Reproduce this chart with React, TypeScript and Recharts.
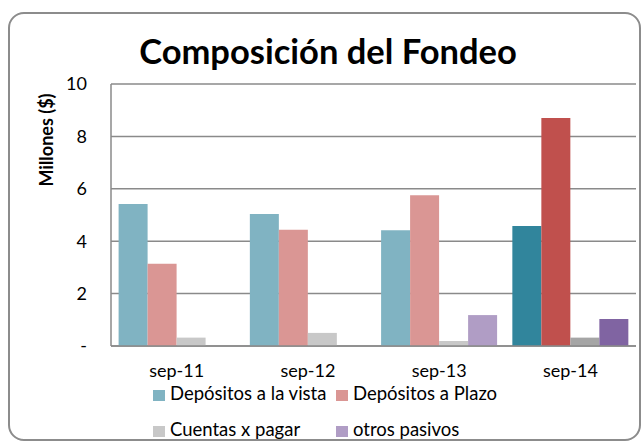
import { BarChart, Bar, XAxis, YAxis, CartesianGrid, Cell } from "recharts"

const categories = ["sep-11", "sep-12", "sep-13", "sep-14"]
const vista = [5.42, 5.04, 4.42, 4.58]
const plazo = [3.14, 4.44, 5.75, 8.7]
const cuentas = [0.32, 0.5, 0.19, 0.32]
const otros = [0, 0, 1.18, 1.03]
const yTicks = [0, 2, 4, 6, 8, 10]

const seriesNames = ["Depósitos a la vista", "Depósitos a Plazo", "Cuentas x pagar", "otros pasivos"]
const lightColors = ["#80b3c2", "#da9694", "#c8c8c8", "#b09dc5"]
const darkColors = ["#31859c", "#c0504d", "#a5a5a5", "#8064a2"]

const FONT = "Lato, 'Open Sans', sans-serif"

const data = categories.map((c, i) => ({
  name: c,
  vista: vista[i],
  plazo: plazo[i],
  cuentas: cuentas[i],
  otros: otros[i],
}))

const keys = ["vista", "plazo", "cuentas", "otros"]

const App = () => {
  return (
    <div style={{ position: "absolute", left: 0, top: 0, width: 643, height: 448, background: "#fff" }}>
      <div
        style={{
          position: "absolute",
          left: 8,
          top: 12,
          width: 629,
          height: 425,
          border: "2px solid #8c8c8c",
          borderRadius: 16,
        }}
      />
      <BarChart
        width={643}
        height={448}
        data={data}
        margin={{ top: 84, right: 7, bottom: 62, left: 0 }}
        barGap={0}
        barCategoryGap={7.6}
      >
        <CartesianGrid vertical={false} stroke="#8a8a8a" strokeWidth={1.5} />
        <XAxis
          dataKey="name"
          height={40}
          tickLine={false}
          tickSize={0}
          tickMargin={18}
          axisLine={{ stroke: "#8a8a8a", strokeWidth: 1.5 }}
          tick={{ fill: "#000", fontSize: 18, fontFamily: FONT }}
        />
        <YAxis
          width={111}
          domain={[0, 10]}
          ticks={yTicks}
          interval={0}
          tickLine={false}
          tickSize={0}
          tickMargin={24}
          axisLine={{ stroke: "#8a8a8a", strokeWidth: 1.5 }}
          tickFormatter={(v) => (v === 0 ? "-" : String(v))}
          tick={{ fill: "#000", fontSize: 18, fontFamily: FONT }}
        />
        {keys.map((k, si) => (
          <Bar key={k} dataKey={k} isAnimationActive={false}>
            {data.map((d, ci) => (
              <Cell key={d.name} fill={ci === 3 ? darkColors[si] : lightColors[si]} />
            ))}
          </Bar>
        ))}
      </BarChart>
      <svg
        width={643}
        height={448}
        style={{ position: "absolute", left: 0, top: 0, pointerEvents: "none" }}
        fontFamily={FONT}
      >
        <text x={328} y={64} textAnchor="middle" fontSize={34.5} fontWeight="bold" fill="#000">
          Composición del Fondeo
        </text>
        <text
          x={53}
          y={140}
          textAnchor="middle"
          fontSize={18}
          fontWeight="bold"
          fill="#000"
          transform="rotate(-90, 53, 140)"
        >
          Millones ($)
        </text>
        {seriesNames.map((n, i) => {
          const x = i % 2 === 0 ? 153 : 336
          const y = i < 2 ? 400 : 436
          return (
            <g key={n}>
              <rect x={x} y={y - 10} width={12} height={11} fill={lightColors[i]} />
              <text x={x + 17} y={y} fontSize={18.5} fill="#000">
                {n}
              </text>
            </g>
          )
        })}
      </svg>
    </div>
  )
}

export default App
